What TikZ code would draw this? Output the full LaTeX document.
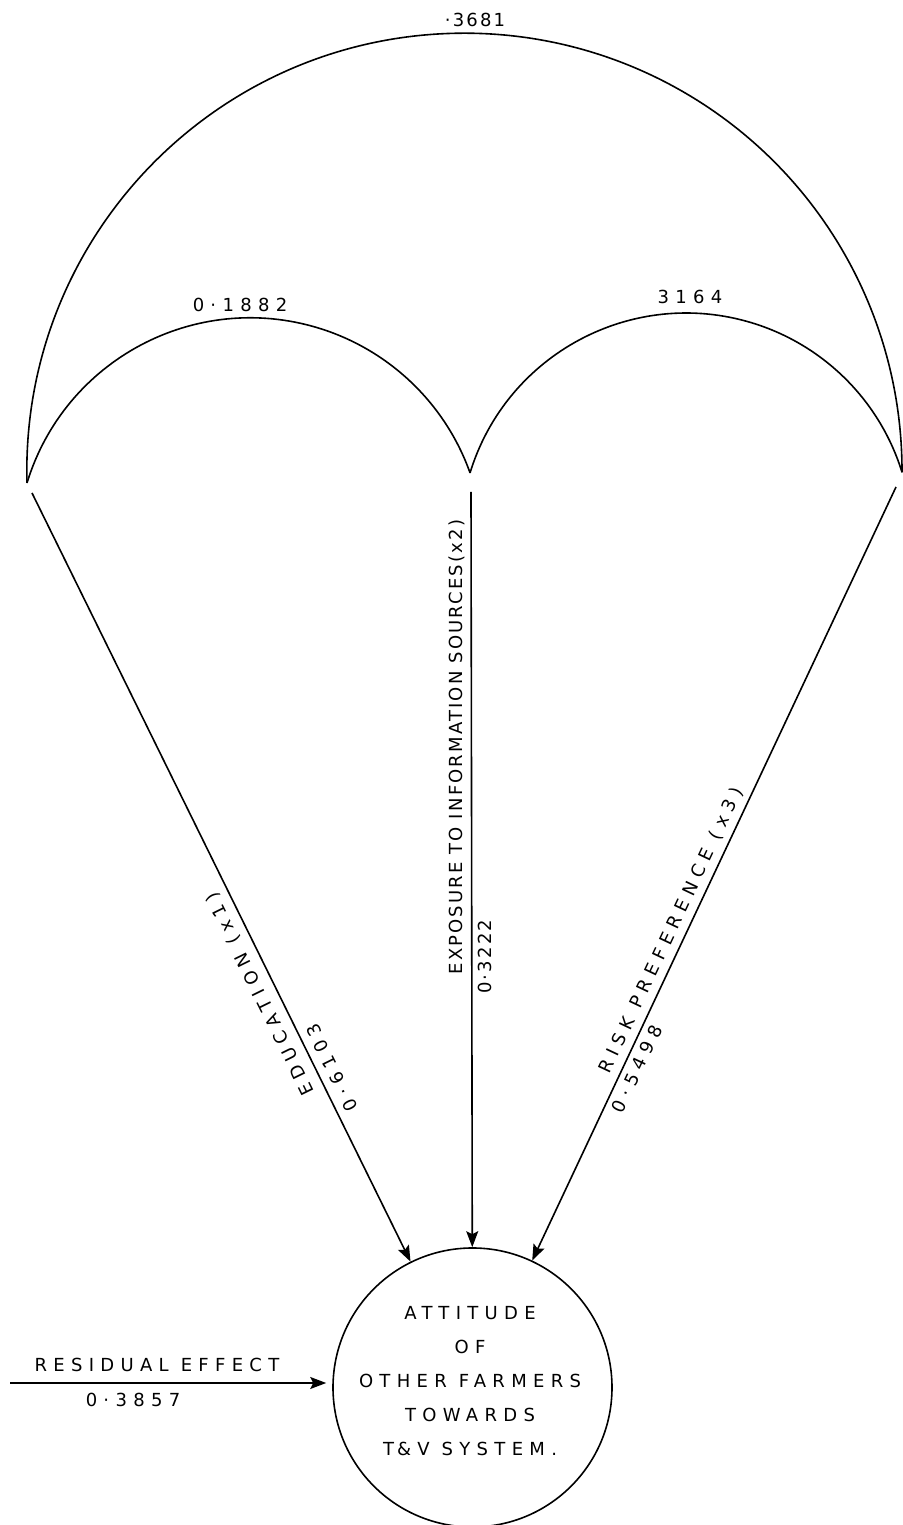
\documentclass[tikz,border=0pt]{standalone}
\usepackage{fontspec}
\newfontfamily\lett{DejaVu Sans}[LetterSpace=35]
\newfontfamily\lettn{DejaVu Sans}[LetterSpace=12]
\usetikzlibrary{arrows.meta,calc}
\begin{document}
\begin{tikzpicture}[x=0.5pt,y=0.5pt,
  conn/.style={line width=0.8pt},
  arr/.style={conn,-{Stealth[length=8pt,width=6pt,inset=1.5pt]}},
  lab/.style={font=\lett\fontsize{9}{10}\selectfont, inner sep=3pt},
  labn/.style={font=\lettn\fontsize{9}{10}\selectfont, inner sep=3pt},
  cbox/.style={circle, draw, line width=0.8pt, minimum size=139.5pt, inner sep=0pt}
]
\useasboundingbox (0,0) rectangle (903,1525);
% variable points
\coordinate (A) at (27,1042);
\coordinate (B) at (470,1052);
\coordinate (C) at (902,1053);
\coordinate (s1) at (32,1032);
\coordinate (s2) at (471,1033);
\coordinate (s3) at (896,1038);
\coordinate (res) at (10,142);
% dependent variable
\node[cbox] (att) at (472.5,137.5) {};
\node[lab, align=center, font=\lett\fontsize{9}{17}\selectfont] (atttext) at (470,143.5)
  {ATTITUDE\\OF\\OTHER FARMERS\\TOWARDS\\T\,\&V SYSTEM.};
% correlation arcs
\draw[conn] (A) arc[start angle=181.6, end angle=-0.2, radius=437.6];
\draw[conn] (A) arc[start angle=163.0, end angle=19.6, radius=233.4];
\draw[conn] (B) arc[start angle=163.0, end angle=17.2, radius=226.0];
\node[labn] (r13) at (475,1505) {·3681};
\node[lab] (r12) at (240,1220) {0·1882};
\node[lab] (r23) at (690,1228) {3164};
% path arrows
\draw[arr] (s1) -- (att);
\draw[arr] (s2) -- (att);
\draw[arr] (s3) -- (att);
\draw[arr, shorten >=3pt] (res) -- (res -| att.west);
% path labels
\path (s1) -- (att.center)
  node[lab, pos=0.552, rotate=116.2, anchor=south, inner sep=4pt] (lx1) {EDUCATION (x1)}
  node[lab, pos=0.650, rotate=116.2, anchor=north, inner sep=4pt] (px1) {0·6103};
\path (s2) -- (att.center)
  node[labn, pos=0.285, rotate=90, anchor=south] (lx2) {EXPOSURE TO INFORMATION SOURCES(x2)}
  node[labn, pos=0.519, rotate=90, anchor=north] (px2) {0·3222};
\path (s3) -- (att.center)
  node[lab, pos=0.4995, rotate=64.8, anchor=south] (lx3) {RISK PREFERENCE (x3)}
  node[lab, pos=0.640, rotate=64.8, anchor=north] (px3) {0·5498};
\node[lab] (lres) at (157,160) {RESIDUAL EFFECT};
\node[lab] (pres) at (133,125) {0·3857};
\end{tikzpicture}
\end{document}
